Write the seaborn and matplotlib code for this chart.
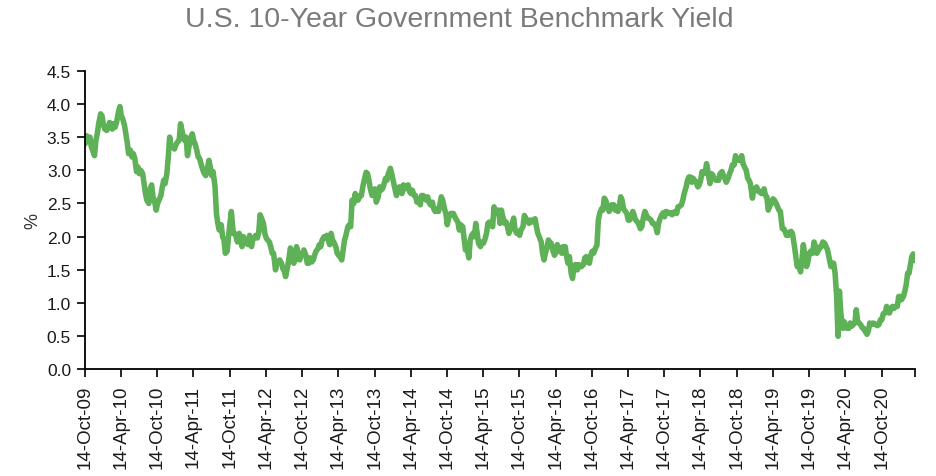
import numpy as np
import pandas as pd
import seaborn as sns
import matplotlib.pyplot as plt

# weekly-ish readings of the 10y yield (%), 4 per month on the 1st/8th/15th/22nd
y2009 = [3.40, 3.52,  3.45, 3.50, 3.35, 3.30,  3.22, 3.45, 3.55, 3.70]
y2010 = [3.85, 3.82, 3.68, 3.62,  3.60, 3.65, 3.72, 3.70,  3.62, 3.70, 3.65, 3.72,
         3.88, 3.96, 3.82, 3.78,  3.68, 3.55, 3.42, 3.25,  3.30, 3.20, 3.25, 3.18,
         2.98, 3.05, 2.95, 3.00,  2.95, 2.80, 2.65, 2.55,  2.50, 2.72, 2.78, 2.60,
         2.52, 2.40, 2.50, 2.55,  2.62, 2.75, 2.85, 2.80,  2.95, 3.20, 3.50, 3.35]
y2011 = [3.35, 3.32, 3.38, 3.42,  3.45, 3.70, 3.60, 3.50,  3.45, 3.50, 3.22, 3.35,
         3.48, 3.55, 3.45, 3.40,  3.30, 3.20, 3.18, 3.10,  3.00, 2.95, 2.92, 3.00,
         3.15, 3.05, 2.92, 2.98,  2.75, 2.35, 2.20, 2.10,  2.18, 2.00, 1.95, 1.75,
         1.78, 2.00, 2.20, 2.38,  2.05, 2.05, 2.00, 1.92,  2.05, 2.00, 1.85, 2.00]
y2012 = [1.90, 1.95, 1.88, 2.02,  1.85, 1.98, 1.98, 2.02,  1.98, 2.05, 2.33, 2.28,
         2.20, 2.05, 1.98, 1.95,  1.92, 1.85, 1.75, 1.75,  1.50, 1.62, 1.62, 1.65,
         1.60, 1.52, 1.48, 1.40,  1.55, 1.68, 1.83, 1.75,  1.60, 1.65, 1.85, 1.75,
         1.65, 1.72, 1.75, 1.80,  1.72, 1.60, 1.60, 1.68,  1.62, 1.65, 1.72, 1.78]
y2013 = [1.82, 1.88, 1.85, 1.95,  2.00, 1.98, 2.02, 1.95,  1.88, 2.05, 1.95, 1.92,
         1.85, 1.75, 1.72, 1.70,  1.65, 1.80, 1.95, 2.02,  2.15, 2.18, 2.15, 2.55,
         2.50, 2.65, 2.55, 2.55,  2.62, 2.62, 2.75, 2.85,  2.97, 2.95, 2.85, 2.72,
         2.62, 2.65, 2.72, 2.52,  2.60, 2.75, 2.70, 2.72,  2.80, 2.88, 2.85, 2.95]
y2014 = [3.03, 2.95, 2.85, 2.75,  2.62, 2.70, 2.75, 2.72,  2.65, 2.78, 2.72, 2.75,
         2.78, 2.68, 2.65, 2.70,  2.62, 2.62, 2.52, 2.55,  2.48, 2.62, 2.62, 2.60,
         2.55, 2.60, 2.52, 2.48,  2.52, 2.42, 2.38, 2.42,  2.38, 2.48, 2.60, 2.55,
         2.42, 2.35, 2.18, 2.28,  2.35, 2.35, 2.35, 2.30,  2.25, 2.22, 2.10, 2.18]
y2015 = [2.15, 1.97, 1.80, 1.85,  1.68, 1.95, 2.02, 2.05,  2.00, 2.20, 2.05, 1.90,
         1.85, 1.92, 1.90, 1.95,  2.05, 2.20, 2.22, 2.18,  2.15, 2.45, 2.35, 2.40,
         2.40, 2.20, 2.40, 2.30,  2.20, 2.22, 2.15, 2.05,  2.15, 2.20, 2.28, 2.10,
         2.05, 2.08, 2.02, 2.10,  2.15, 2.32, 2.28, 2.25,  2.20, 2.25, 2.22, 2.25]
y2016 = [2.27, 2.15, 2.05, 2.00,  1.92, 1.75, 1.65, 1.75,  1.83, 1.95, 1.92, 1.90,
         1.78, 1.72, 1.76, 1.88,  1.82, 1.78, 1.75, 1.85,  1.85, 1.70, 1.60, 1.70,
         1.45, 1.37, 1.55, 1.58,  1.50, 1.58, 1.55, 1.55,  1.58, 1.68, 1.70, 1.62,
         1.60, 1.72, 1.78, 1.75,  1.83, 1.87, 2.25, 2.35,  2.42, 2.40, 2.58, 2.55]
y2017 = [2.45, 2.38, 2.42, 2.48,  2.48, 2.40, 2.45, 2.38,  2.45, 2.60, 2.55, 2.42,
         2.38, 2.35, 2.25, 2.25,  2.30, 2.38, 2.32, 2.25,  2.22, 2.18, 2.12, 2.15,
         2.30, 2.38, 2.33, 2.28,  2.27, 2.25, 2.20, 2.20,  2.15, 2.06, 2.20, 2.27,
         2.33, 2.36, 2.30, 2.38,  2.37, 2.35, 2.36, 2.33,  2.37, 2.38, 2.35, 2.45]
y2018 = [2.46, 2.48, 2.55, 2.65,  2.75, 2.85, 2.90, 2.90,  2.82, 2.88, 2.85, 2.83,
         2.75, 2.78, 2.85, 2.98,  2.95, 2.97, 3.10, 2.98,  2.80, 2.95, 2.93, 2.88,
         2.85, 2.85, 2.85, 2.95,  2.98, 2.92, 2.88, 2.82,  2.88, 2.95, 3.00, 3.08,
         3.08, 3.22, 3.16, 3.15,  3.15, 3.22, 3.10, 3.05,  3.00, 2.88, 2.85, 2.80]
y2019 = [2.58, 2.70, 2.72, 2.75,  2.68, 2.68, 2.65, 2.68,  2.72, 2.62, 2.60, 2.40,
         2.48, 2.50, 2.57, 2.55,  2.50, 2.45, 2.40, 2.38,  2.12, 2.12, 2.08, 2.02,
         2.02, 2.07, 2.08, 2.05,  1.86, 1.70, 1.55, 1.58,  1.47, 1.65, 1.88, 1.72,
         1.55, 1.62, 1.75, 1.78,  1.75, 1.92, 1.85, 1.75,  1.80, 1.85, 1.85, 1.92]
y2020 = [1.90, 1.85, 1.80, 1.70,  1.55, 1.60, 1.60, 1.45,  1.10, 0.50, 1.18, 0.85,
         0.62, 0.72, 0.63, 0.62,  0.62, 0.70, 0.65, 0.67,  0.70, 0.90, 0.72, 0.70,
         0.67, 0.63, 0.62, 0.58,  0.53, 0.58, 0.70, 0.68,  0.70, 0.68, 0.68, 0.66,
         0.68, 0.75, 0.75, 0.84,  0.85, 0.95, 0.90, 0.85,  0.92, 0.95, 0.92, 0.95]
y2021 = [0.95, 1.10, 1.10, 1.05,  1.10, 1.18, 1.28, 1.45,  1.45, 1.58, 1.70, 1.74,
         1.64]

tick_start = "2009-10-14"
tick_end = "2020-10-14"
axis_end = "2021-04-01"
title = "U.S. 10-Year Government Benchmark Yield"


def month_grid(year, n, first_month=1, skip=0):
    days = [pd.Timestamp(year, m, d) for m in range(first_month, 13) for d in (1, 8, 15, 22)]
    return days[skip:skip + n]


dates = month_grid(2009, len(y2009), 10, 2)
yields = list(y2009)
for yr, vals in zip(range(2010, 2022),
                    [y2010, y2011, y2012, y2013, y2014, y2015, y2016, y2017, y2018, y2019, y2020, y2021]):
    dates += month_grid(yr, len(vals))
    yields += vals

df = pd.DataFrame({"date": dates, "yield": yields})

sns.set_theme(style="ticks")
plt.rcParams["font.family"] = ["Liberation Sans", "DejaVu Sans"]

fig = plt.figure(figsize=(9.37, 4.77), dpi=100)
ax = fig.add_axes([0.0907, 0.2233, 0.886, 0.6264])

sns.lineplot(data=df, x="date", y="yield", ax=ax, color="#5FB157", linewidth=4.0,
             estimator=None)
for ln in ax.lines:
    ln.set_solid_joinstyle("round")

ticks = list(pd.date_range(tick_start, tick_end, freq=pd.DateOffset(months=6)))
ax.set_xticks(ticks + [pd.Timestamp(axis_end)])
ax.set_xticklabels([t.strftime("%d-%b-%y") for t in ticks] + [""], rotation=90,
                   fontsize=13.5, color="#1a1a1a")
ax.set_xlim(pd.Timestamp(tick_start), pd.Timestamp(axis_end))

ax.set_ylim(0, 4.5)
yt = np.arange(0, 4.51, 0.5)
ax.set_yticks(yt)
ax.set_yticklabels([f"{v:.1f}" for v in yt], fontsize=12.5, color="#1a1a1a")

ax.set_xlabel("")
ax.set_ylabel("%", fontsize=13, color="#333333", labelpad=4)
ax.tick_params(axis="both", direction="out", length=6, width=1.2, color="black", pad=4)
ax.tick_params(axis="x", pad=5)
for s in ["top", "right"]:
    ax.spines[s].set_visible(False)
for s in ["left", "bottom"]:
    ax.spines[s].set_color("black")
    ax.spines[s].set_linewidth(1.3)

fig.suptitle(title, x=0.49, y=0.985, fontsize=20.5, color="#7a7a7a")

fig.savefig("out.png", dpi=100)
